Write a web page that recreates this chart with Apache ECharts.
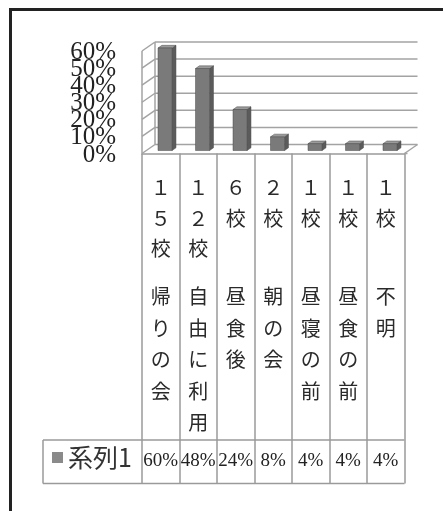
<!DOCTYPE html>
<html>
<head>
<meta charset="utf-8">
<script src="https://cdn.jsdelivr.net/npm/echarts@6/dist/echarts.min.js"></script>
<style>html,body{margin:0;padding:0;background:#fff;}#c{width:443px;height:511px;}</style>
</head>
<body>
<div id="c"></div>
<script>
// ---- data ----
const categories = ["帰りの会", "自由に利用", "昼食後", "朝の会", "昼寝の前", "昼食の前", "不明"];
const counts = ["１５校", "１２校", "６校", "２校", "１校", "１校", "１校"];
const values = [60, 48, 24, 8, 4, 4, 4];
const yTicks = [0, 10, 20, 30, 40, 50, 60];
const seriesName = "系列1";

// ---- style constants ----
const DX = 13, DY = -9;          // depth offset of back wall
const GRID_COLOR = '#a3a3a3';
const TABLE_COLOR = '#9a9a9a';

const chart = echarts.init(document.getElementById('c'), null, {renderer: 'canvas'});

function wallItem(params, api) {
  const v = api.value(0);
  const cs = params.coordSys;
  const L = cs.x, R = cs.x + cs.width;
  const y = api.coord([0, v])[1];
  const st = {stroke: GRID_COLOR, lineWidth: 1.5};
  const ch = [
    {type: 'line', shape: {x1: L + DX, y1: y + DY, x2: R + DX, y2: y + DY}, style: st},
    {type: 'line', shape: {x1: L, y1: y, x2: L + DX, y2: y + DY}, style: st},
    {type: 'text', x: L - 26, y: y + 1.5,
     style: {text: v + '%', align: 'right', verticalAlign: 'middle',
             font: '25px "Liberation Serif"', fill: '#222'}}
  ];
  if (v === yTicks[0]) {
    const yTop = api.coord([0, yTicks[yTicks.length - 1]])[1];
    ch.push({type: 'line', shape: {x1: R, y1: y, x2: R + DX, y2: y + DY}, style: st});
    ch.push({type: 'line', shape: {x1: L, y1: y, x2: L, y2: yTop}, style: st});
    ch.push({type: 'line', shape: {x1: L + DX, y1: y + DY, x2: L + DX, y2: yTop + DY}, style: st});
    ch.push({type: 'line', shape: {x1: R, y1: y, x2: R + 3, y2: y}, style: st});
  }
  return {type: 'group', children: ch};
}

function barItem(params, api) {
  const i = api.value(0), v = api.value(1);
  const bw = api.size([1, 0])[0];
  const c0 = api.coord([i, 0]);
  const c1 = api.coord([i, v]);
  const f0 = 0.33, f1 = 0.63;
  const w = bw * 0.375;
  const ox = DX * f0, oy = DY * f0;
  const sx = DX * (f1 - f0), sy = DY * (f1 - f0);
  const x0 = c0[0] - w / 2 + ox, x1 = x0 + w;
  const yb = c0[1] + oy, yt = c1[1] + oy;
  const edge = '#4a4a4a';
  return {type: 'group', children: [
    {type: 'polygon', shape: {points: [[x1, yb], [x1 + sx, yb + sy], [x1 + sx, yt + sy], [x1, yt]]},
     style: {fill: '#5b5b5b', stroke: edge, lineWidth: 0.5}},
    {type: 'polygon', shape: {points: [[x0, yt], [x1, yt], [x1 + sx, yt + sy], [x0 + sx, yt + sy]]},
     style: {fill: '#9b9b9b', stroke: edge, lineWidth: 0.5}},
    {type: 'rect', shape: {x: x0, y: yt, width: w, height: yb - yt},
     style: {fill: '#7a7a7a', stroke: edge, lineWidth: 0.5}}
  ]};
}

const option = {
  backgroundColor: '#fff',
  animation: false,
  grid: {left: 142, right: 38.5, top: 51, bottom: 357.5},
  legend: {
    data: [{name: seriesName, icon: 'rect', itemStyle: {color: '#8a8a8a'}}],
    left: 52, top: 445, padding: 0,
    itemWidth: 11, itemHeight: 11, itemGap: 5,
    textStyle: {fontSize: 25, color: '#333', fontFamily: 'Noto Sans CJK JP'}
  },
  xAxis: [
    {
      type: 'category', data: categories, position: 'bottom',
      axisLine: {show: true, lineStyle: {color: TABLE_COLOR, width: 1.5}},
      axisTick: {show: true, interval: 0, length: 330, lineStyle: {color: TABLE_COLOR, width: 1.5}},
      axisLabel: {
        interval: 0, margin: 19, color: '#333',
        formatter: function (val, idx) {
          const cs = Array.from(counts[idx]);
          while (cs.length < 3) cs.push(' ');
          return cs.map(ch => '{n|' + ch + '}').join('\n') + '\n{g| }\n' +
            Array.from(val).map(ch => '{t|' + ch + '}').join('\n');
        },
        rich: {
          n: {fontSize: 20, lineHeight: 30.5, fontFamily: 'Noto Sans CJK JP', color: '#2a2a2a'},
          g: {fontSize: 10, lineHeight: 17},
          t: {fontSize: 20, lineHeight: 31.5, fontFamily: 'Noto Sans CJK JP', color: '#2a2a2a'}
        }
      }
    },
    {
      type: 'category', data: categories, position: 'bottom', offset: 308,
      axisLine: {show: false}, axisTick: {show: false},
      axisLabel: {
        interval: 0, margin: 0, verticalAlign: 'middle',
        fontFamily: 'Liberation Serif', fontSize: 19, color: '#222',
        formatter: function (val, idx) { return values[idx] + '%'; }
      }
    }
  ],
  yAxis: {
    type: 'value', min: 0, max: 60, interval: 10,
    axisLine: {show: false}, axisTick: {show: false}, splitLine: {show: false},
    axisLabel: {show: false}
  },
  series: [
    {
      type: 'custom', name: 'wall', silent: true, z: 1,
      renderItem: wallItem,
      data: yTicks.map(v => [v]),
      encode: {y: 0}
    },
    {
      type: 'custom', name: seriesName, z: 3,
      itemStyle: {color: '#8a8a8a'},
      renderItem: barItem,
      data: values.map((v, i) => [i, v]),
      encode: {x: 0, y: 1}
    }
  ],
  graphic: [
    {type: 'line', shape: {x1: 10.5, y1: 9.5, x2: 443, y2: 9.5}, style: {stroke: '#222', lineWidth: 3}},
    {type: 'line', shape: {x1: 10.5, y1: 8, x2: 10.5, y2: 511}, style: {stroke: '#222', lineWidth: 3}},
    {type: 'line', shape: {x1: 43, y1: 440, x2: 404.5, y2: 440}, style: {stroke: TABLE_COLOR, lineWidth: 1.5}},
    {type: 'line', shape: {x1: 43, y1: 483.5, x2: 404.5, y2: 483.5}, style: {stroke: TABLE_COLOR, lineWidth: 1.5}},
    {type: 'line', shape: {x1: 43, y1: 440, x2: 43, y2: 483.5}, style: {stroke: TABLE_COLOR, lineWidth: 1.5}}
  ]
};
chart.setOption(option);
</script>
</body>
</html>
